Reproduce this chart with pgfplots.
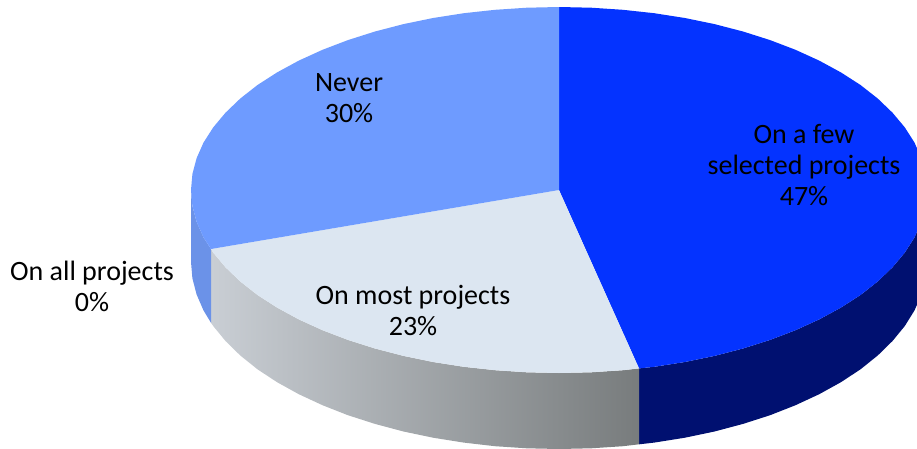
\documentclass[border=0pt]{standalone}
\usepackage{pgfplots}
\usepackage{fontspec}
\setmainfont{Carlito}
\pgfplotsset{compat=1.18}
\definecolor{fewtop}{HTML}{0433FF}
\definecolor{fewside}{HTML}{001070}
\definecolor{nevertop}{HTML}{6E9BFF}
\definecolor{neverside}{HTML}{6B92E8}
\definecolor{mosttop}{HTML}{DCE6F1}
\definecolor{sideA}{HTML}{C9CED4}
\definecolor{sideB}{HTML}{B0B6BC}
\definecolor{sideC}{HTML}{787C7D}
\tikzset{lbl/.style={font=\fontsize{28}{31}\selectfont, align=center, text=black, inner sep=0pt}}
\begin{document}
\begin{tikzpicture}
\useasboundingbox (0,0) rectangle (917pt,448pt);
\begin{axis}[
  at={(0,0)}, anchor=south west,
  scale only axis, width=917pt, height=448pt,
  xmin=0, xmax=917, ymin=0, ymax=448, y dir=reverse,
  hide axis, no markers,
]
% side wall: On a few selected projects
\addplot[draw=none, fill=fewside] coordinates {
 (927,190) (925.6,206) (921.4,221.8) (914.5,237.4) (904.8,252.6) (892.5,267.3) (877.7,281.5)
 (860.5,295) (840.9,307.6) (819.2,319.4) (795.5,330.2) (770.1,339.9) (743,348.5) (714.5,355.9)
 (684.9,362) (654.2,366.8) (639,368.4)
 (639,444.3) (654.2,442.6) (684.9,437.7) (714.5,431.5) (743,423.9) (770.1,415.2) (795.5,405.2)
 (819.2,394.2) (840.9,382.2) (860.5,369.3) (877.7,355.5) (892.5,341) (904.8,326) (914.5,310.4)
 (921.4,294.5) (925.6,278.3) (927,262)
} -- cycle;
% side wall: On most projects
\addplot[draw=none, left color=sideA, middle color=sideB, right color=sideC] coordinates {
 (639,368.4) (622.9,370.2) (591.1,372.3) (559,373) (526.9,372.3) (495.1,370.2) (463.8,366.8)
 (433.1,362) (403.5,355.9) (375,348.5) (347.9,339.9) (322.5,330.2) (298.8,319.4) (277.1,307.6)
 (257.5,295) (240.3,281.5) (225.5,267.3) (213.2,252.6) (211,249)
 (211,322.8) (213.2,326) (225.5,341) (240.3,355.5) (257.5,369.3) (277.1,382.2) (298.8,394.2)
 (322.5,405.2) (347.9,415.2) (375,423.9) (403.5,431.5) (433.1,437.7) (463.8,442.6) (495.1,446.2)
 (526.9,448.3) (559,449) (591.1,448.3) (622.9,446.2) (639,444.3)
} -- cycle;
% side wall: Never
\addplot[draw=none, fill=neverside] coordinates {
 (211,249) (203.5,237.4) (196.6,221.8) (192.4,206) (191,190)
 (191,262) (192.4,278.3) (196.6,294.5) (203.5,310.4) (211,322.8)
} -- cycle;
% top face: On a few selected projects
\addplot[draw=none, fill=fewtop] coordinates {
 (559,190) (559,7) (591.1,7.7) (622.9,9.8) (654.2,13.2) (684.9,18) (714.5,24.1) (743,31.5)
 (770.1,40.1) (795.5,49.8) (819.2,60.6) (840.9,72.4) (860.5,85) (877.7,98.5) (892.5,112.7)
 (904.8,127.4) (914.5,142.6) (921.4,158.2) (925.6,174) (927,190)
 (925.6,206) (921.4,221.8) (914.5,237.4) (904.8,252.6) (892.5,267.3) (877.7,281.5) (860.5,295)
 (840.9,307.6) (819.2,319.4) (795.5,330.2) (770.1,339.9) (743,348.5) (714.5,355.9) (684.9,362)
 (654.2,366.8) (639,368.4)
} -- cycle;
% top face: On most projects
\addplot[draw=none, fill=mosttop] coordinates {
 (559,190) (639,368.4) (622.9,370.2) (591.1,372.3) (559,373) (526.9,372.3) (495.1,370.2)
 (463.8,366.8) (433.1,362) (403.5,355.9) (375,348.5) (347.9,339.9) (322.5,330.2) (298.8,319.4)
 (277.1,307.6) (257.5,295) (240.3,281.5) (225.5,267.3) (213.2,252.6) (211,249)
} -- cycle;
% top face: Never
\addplot[draw=none, fill=nevertop] coordinates {
 (559,190) (211,249) (203.5,237.4) (196.6,221.8) (192.4,206) (191,190) (192.4,174) (196.6,158.2)
 (203.5,142.6) (213.2,127.4) (225.5,112.7) (240.3,98.5) (257.5,85) (277.1,72.4) (298.8,60.6)
 (322.5,49.8) (347.9,40.1) (375,31.5) (403.5,24.1) (433.1,18) (463.8,13.2) (495.1,9.8)
 (526.9,7.7) (559,7)
} -- cycle;
\node[lbl] at (axis cs:804,165) {On a few\\selected projects\\47\%};
\node[lbl] at (axis cs:349,98) {Never\\30\%};
\node[lbl] at (axis cs:413,310) {On most projects\\23\%};
\node[lbl] at (axis cs:92,286) {On all projects\\0\%};
\end{axis}
\end{tikzpicture}
\end{document}
